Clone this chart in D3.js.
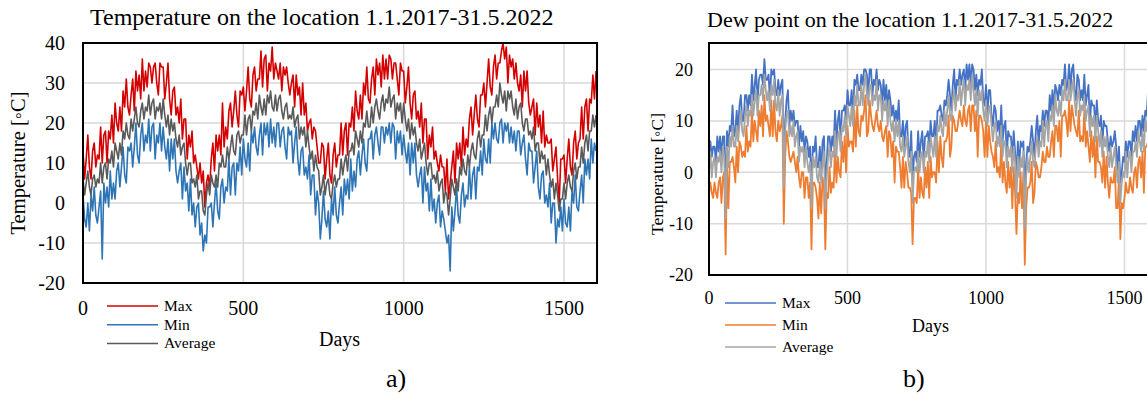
<!DOCTYPE html>
<html>
<head>
<meta charset="utf-8">
<script src="https://cdn.jsdelivr.net/npm/d3@7"></script>
<style>
  body { margin: 0; background: #fff; }
  svg text { font-family: "Liberation Serif", "Times New Roman", serif; fill: #000; }
</style>
</head>
<body>
<svg id="chart" width="1147" height="394"></svg>
<script>
// one reading every 5 days (10 per row = 50 days)
const STEP = 5;

// a) air temperature
const tMax = [
  13, 6, 11, 17, 9, 6, 13, 15, 9, 12,
  11, 19, 10, 17, 18, 10, 18, 16, 22, 15,
  25, 20, 18, 24, 18, 28, 24, 31, 24, 22,
  27, 31, 23, 33, 28, 32, 26, 36, 28, 33,
  29, 35, 34, 30, 34, 35, 30, 27, 35, 34,
  34, 26, 30, 35, 26, 22, 28, 29, 22, 24,
  20, 26, 16, 21, 21, 11, 17, 14, 18, 10,
  12, 9, 6, 10, 5, 8, -1, 5, 7, 4,
  11, 15, 8, 17, 13, 17, 12, 25, 14, 19,
  16, 23, 25, 19, 23, 28, 22, 19, 28, 27,
  29, 23, 28, 34, 26, 24, 32, 34, 28, 31,
  31, 38, 29, 36, 37, 28, 35, 33, 39, 31,
  35, 33, 31, 35, 28, 34, 32, 34, 30, 27,
  30, 32, 24, 32, 27, 29, 22, 30, 22, 25,
  18, 20, 21, 16, 19, 18, 14, 10, 10, 15,
  14, 6, 11, 15, 7, 5, 12, 15, 9, 12,
  12, 20, 12, 18, 20, 12, 20, 19, 24, 18,
  28, 23, 21, 27, 21, 30, 27, 34, 26, 25,
  31, 34, 27, 36, 32, 35, 29, 37, 31, 36,
  31, 37, 36, 31, 35, 35, 31, 27, 35, 33,
  33, 25, 29, 34, 25, 21, 27, 28, 21, 23,
  19, 25, 15, 21, 21, 11, 17, 14, 19, 11,
  13, 10, 8, 12, 9, 9, 3, 11, 1, 5,
  9, 13, 5, 15, 11, 15, 9, 19, 12, 16,
  14, 21, 24, 17, 22, 27, 21, 19, 27, 27,
  30, 24, 30, 36, 29, 27, 34, 37, 31, 35,
  35, 38, 40, 36, 39, 30, 37, 34, 36, 31,
  35, 30, 28, 32, 24, 33, 28, 33, 25, 22,
  24, 26, 17, 25, 19, 22, 15, 23, 14, 17,
  15, 15, 16, 8, 11, 14, 6, 0, 11, 11,
  12, 5, 11, 16, 9, 7, 15, 18, 11, 15,
  16, 24, 16, 24, 26, 18, 26, 25, 32, 26,
  33
];
const tMin = [
  2, -4, -6, 0, -7, 2, -2, 4, -3, -5,
  -1, 3, -14, 5, 0, 4, -1, 8, 1, 5,
  1, 8, 10, 4, 9, 14, 7, 5, 14, 13,
  15, 9, 14, 20, 12, 10, 17, 20, 13, 17,
  15, 21, 13, 19, 20, 11, 17, 15, 20, 13,
  19, 14, 11, 16, 8, 16, 11, 16, 8, 5,
  8, 10, 1, 9, 3, 5, -2, 6, -3, 0,
  -6, -1, 0, -8, -5, -12, -8, -10, -1, -1,
  0, -6, 0, 5, -2, -4, 4, 6, 0, 4,
  3, 11, 2, 9, 10, 2, 10, 8, 14, 7,
  16, 11, 9, 15, 8, 18, 15, 19, 14, 12,
  17, 20, 12, 20, 17, 20, 14, 21, 15, 19,
  14, 20, 20, 14, 18, 19, 14, 11, 19, 17,
  18, 10, 15, 19, 11, 7, 13, 14, 7, 9,
  6, 12, 2, 7, 7, -3, 3, 0, -9, -4,
  3, -4, -6, -2, -9, 1, -3, 4, -3, -5,
  0, 4, -3, 6, 2, 6, 1, 11, 3, 8,
  4, 11, 13, 7, 12, 16, 10, 8, 16, 16,
  18, 11, 17, 19, 15, 12, 19, 19, 15, 19,
  17, 20, 15, 20, 19, 11, 18, 15, 18, 12,
  17, 13, 10, 15, 7, 15, 10, 15, 7, 4,
  7, 9, 0, 9, 3, 5, -2, 6, -2, 1,
  -5, 0, 2, -6, -2, -4, -7, -10, -8, -17,
  -1, -7, -2, 4, -3, -5, 2, 5, -1, 2,
  1, 9, 1, 7, 9, 1, 9, 8, 13, 7,
  16, 11, 10, 16, 10, 20, 16, 20, 16, 15,
  20, 21, 15, 20, 18, 20, 15, 19, 15, 18,
  13, 18, 18, 12, 15, 17, 11, 7, 15, 13,
  13, 5, 9, 13, 4, 1, 7, 8, 0, 2,
  -1, 5, -5, 0, 0, -10, -4, -6, -1, -7,
  1, -5, -6, -1, -7, 3, 0, 7, -1, -2,
  3, 7, 0, 11, 7, 11, 6, 16, 10, 15,
  13
];
const tAvg = [
  6, 2, 5, 8, 4, 2, 6, 7, 4, 6,
  5, 10, 5, 9, 10, 6, 11, 10, 13, 9,
  15, 13, 11, 15, 12, 18, 16, 20, 17, 16,
  21, 18, 21, 24, 20, 19, 23, 25, 21, 24,
  23, 27, 22, 25, 26, 21, 24, 23, 25, 21,
  26, 22, 19, 22, 17, 21, 18, 20, 16, 14,
  17, 12, 14, 15, 10, 7, 10, 10, 5, 6,
  4, 7, 1, 3, 3, -2, -3, 2, 5, 2,
  7, 5, 4, 7, 4, 10, 9, 12, 9, 9,
  14, 11, 14, 17, 13, 12, 17, 18, 15, 17,
  17, 22, 17, 21, 22, 18, 23, 22, 25, 21,
  27, 24, 22, 26, 22, 27, 25, 28, 24, 23,
  27, 23, 26, 27, 23, 21, 24, 25, 21, 22,
  21, 24, 19, 21, 22, 16, 19, 17, 19, 14,
  18, 14, 11, 13, 8, 12, 9, 8, 2, 4,
  7, 2, 5, 6, 2, 1, 5, 7, 4, 6,
  6, 11, 7, 10, 12, 8, 13, 13, 15, 12,
  18, 16, 14, 18, 15, 20, 19, 23, 19, 19,
  24, 20, 24, 26, 23, 21, 25, 27, 23, 26,
  25, 29, 24, 26, 27, 21, 25, 23, 25, 20,
  25, 21, 18, 21, 16, 20, 17, 19, 15, 13,
  16, 11, 13, 15, 10, 7, 10, 10, 6, 7,
  5, 8, 3, 5, 6, 0, 3, 2, -3, 1,
  6, 4, 2, 6, 3, 9, 7, 11, 8, 7,
  12, 9, 13, 15, 12, 11, 16, 18, 14, 17,
  17, 22, 18, 22, 24, 20, 24, 24, 27, 24,
  30, 27, 25, 28, 23, 28, 26, 28, 24, 22,
  26, 21, 24, 25, 20, 18, 21, 21, 17, 18,
  16, 19, 13, 15, 15, 10, 13, 11, 12, 7,
  11, 7, 4, 6, 1, 5, 2, -2, 1, 1,
  5, 1, 5, 7, 4, 3, 8, 10, 6, 9,
  9, 14, 10, 15, 17, 13, 18, 18, 22, 19,
  22
];

// b) dew point
const dMax = [
  3, 6, 3, 5, 5, 2, 7, 4, 7, 3,
  7, 7, -6, 8, 5, 9, 8, 13, 7, 8,
  12, 8, 13, 15, 10, 10, 15, 15, 12, 15,
  13, 19, 14, 17, 20, 13, 18, 19, 19, 17,
  22, 18, 18, 19, 14, 20, 19, 20, 16, 15,
  18, 15, 17, 18, 1, 10, 14, 16, 9, 12,
  10, 12, 9, 10, 10, 5, 9, 6, 8, 4,
  7, 6, 3, 5, -3, 5, 4, 7, 1, 1,
  5, 0, 6, 7, -3, 2, 7, 7, 4, 7,
  5, 12, 6, 10, 12, 6, 12, 12, 13, 10,
  16, 13, 13, 16, 11, 18, 17, 19, 16, 16,
  19, 17, 20, 20, 19, 15, 20, 20, 15, 18,
  17, 20, 16, 18, 17, 13, 18, 14, 17, 12,
  16, 14, 11, 13, 10, 12, 10, 14, 7, 7,
  10, 5, 9, 10, 4, 3, 8, -2, 3, 4,
  2, 8, 3, 6, 8, 2, 7, 7, 8, 5,
  10, 7, 7, 10, 5, 12, 12, 13, 11, 10,
  14, 13, 15, 18, 15, 12, 17, 20, 14, 18,
  17, 20, 17, 19, 20, 16, 21, 18, 21, 17,
  21, 20, 16, 19, 15, 18, 17, 20, 14, 13,
  17, 11, 16, 16, 11, 9, 13, 12, 8, 10,
  7, 13, 6, 9, 10, 3, 8, 7, 7, 3,
  8, 4, -1, 6, 1, 6, 5, 6, -4, 2,
  5, 4, 6, 9, 6, 3, 8, 11, 5, 9,
  8, 12, 9, 12, 12, 9, 15, 12, 16, 12,
  17, 16, 14, 17, 15, 18, 17, 21, 16, 17,
  21, 16, 20, 21, 16, 14, 19, 18, 14, 16,
  14, 19, 13, 15, 17, 9, 14, 13, 13, 9,
  14, 10, 9, 11, 5, 10, 9, 9, 6, 4,
  7, 5, 6, 8, 5, 0, 5, -2, 0, 3,
  2, 6, 3, 6, 6, 3, 8, 6, 9, 6,
  10, 10, 7, 11, 8, 12, 11, 16, 10, 11,
  14
];
const dMin = [
  -4, -2, -4, -5, -2, -4, -5, -2, -1, -6,
  -1, 0, -16, 1, -7, 2, 2, 3, 1, -2,
  5, 0, 6, 5, 3, 4, 3, 9, 4, 6,
  5, 12, 6, 10, 8, 6, 12, 9, 13, 7,
  15, 10, 11, 9, 7, 14, 7, 14, 8, 6,
  10, 8, 9, 11, -10, 3, 8, 6, 3, 2,
  3, 4, 2, 0, 3, -1, -3, 0, 0, -5,
  -1, -1, -5, -2, -15, -2, -2, -3, -5, -9,
  -2, -8, -1, -3, -15, -4, -5, 1, -4, -2,
  -3, 5, -2, 3, 0, -1, 6, 2, 7, 0,
  9, 5, 6, 6, 4, 12, 5, 13, 8, 7,
  11, 10, 12, 15, 7, 8, 14, 11, 9, 8,
  10, 12, 9, 8, 10, 7, 6, 8, 9, 3,
  8, 7, 3, 6, -2, 5, 4, 4, 1, -3,
  3, -3, 2, 0, -3, -3, -4, -14, -5, -5,
  -6, 1, -5, -1, -4, -5, 1, -3, 2, -5,
  3, -1, 0, 0, -2, 6, 0, 7, 3, 1,
  6, 6, 7, 11, 3, 5, 11, 10, 8, 8,
  10, 12, 10, 9, 13, 10, 9, 12, 13, 8,
  13, 13, 8, 12, 3, 11, 11, 10, 8, 3,
  10, 3, 9, 6, 4, 3, 1, 6, 0, 1,
  -1, 6, -2, 2, -2, -4, 2, -3, 1, -7,
  1, -4, -12, -4, -6, 0, -7, 0, -18, -7,
  -3, -3, -2, 2, -6, -4, 2, 1, -1, -1,
  1, 4, 2, 2, 5, 3, 3, 6, 8, 3,
  9, 9, 6, 10, 3, 11, 11, 12, 10, 7,
  14, 8, 13, 11, 9, 8, 7, 12, 6, 7,
  6, 12, 5, 8, 5, 2, 8, 3, 7, -1,
  7, 2, 2, 1, -2, 4, -3, 3, -2, -5,
  -1, -2, -2, 1, -7, -7, -1, -13, -6, -7,
  -5, -2, -4, -4, -1, -3, -4, 0, 1, -3,
  2, 3, -1, 4, -4, 5, 5, 6, 4, 1,
  7
];
const dAvg = [
  0, 4, -1, 2, 3, -1, 3, 2, 4, 0,
  5, 3, -9, 5, 1, 7, 5, 9, 5, 5,
  9, 6, 9, 12, 8, 7, 11, 13, 9, 12,
  11, 15, 11, 14, 16, 11, 15, 15, 17, 14,
  19, 16, 14, 16, 12, 17, 15, 18, 13, 12,
  16, 11, 14, 15, -3, 8, 11, 12, 7, 9,
  7, 10, 5, 7, 8, 2, 5, 4, 5, 1,
  5, 2, 0, 2, -7, 3, 1, 3, -1, -2,
  2, -2, 2, 4, -7, -1, 3, 5, 1, 4,
  3, 8, 3, 7, 8, 4, 9, 8, 11, 7,
  13, 11, 9, 13, 9, 15, 13, 17, 13, 13,
  17, 13, 17, 19, 15, 13, 17, 17, 13, 15,
  14, 18, 12, 15, 15, 10, 14, 12, 14, 9,
  14, 10, 8, 10, 6, 10, 7, 10, 5, 4,
  7, 3, 5, 7, 2, 0, 4, -6, 0, 1,
  0, 4, 0, 3, 4, 0, 4, 3, 6, 2,
  7, 5, 3, 7, 3, 9, 8, 11, 8, 7,
  12, 9, 12, 15, 11, 10, 14, 16, 12, 15,
  14, 18, 13, 16, 18, 13, 17, 16, 18, 14,
  19, 16, 13, 16, 11, 16, 14, 16, 12, 10,
  14, 9, 12, 13, 9, 6, 9, 10, 5, 7,
  5, 9, 3, 6, 6, 1, 5, 3, 5, 0,
  5, 2, -5, 3, -1, 3, 1, 4, -11, -1,
  3, 0, 3, 6, 2, 1, 5, 7, 3, 6,
  5, 10, 5, 9, 10, 6, 11, 10, 13, 9,
  15, 12, 11, 14, 11, 16, 14, 18, 14, 14,
  18, 14, 16, 18, 14, 11, 15, 16, 11, 13,
  12, 15, 10, 12, 13, 7, 11, 9, 11, 6,
  11, 8, 5, 8, 3, 7, 5, 7, 3, 1,
  5, 1, 3, 5, 1, -2, 2, -6, -2, 0,
  -1, 4, -1, 3, 4, 0, 4, 4, 6, 3,
  8, 6, 4, 8, 4, 10, 8, 12, 8, 8,
  11
];

const seriesNames = ['Max', 'Min', 'Average'];
const xTicks = [0, 500, 1000, 1500];
const tempTicks = [-20, -10, 0, 10, 20, 30, 40];
const dewTicks = [-20, -10, 0, 10, 20];

const svg = d3.select('#chart');

function drawPanel(cfg) {
  const g = svg.append('g');
  const x = d3.scaleLinear().domain([0, 1500]).range(cfg.xRange);
  const y = d3.scaleLinear().domain([-20, 20]).range(cfg.yRange);
  const left = x(0), right = x(1603);
  const top = cfg.top, bottom = y(-20);

  // grid
  g.selectAll('.hg').data(cfg.yTicks.filter(v => v > -20 && y(v) > top + 2))
    .enter().append('line')
    .attr('x1', left).attr('x2', right)
    .attr('y1', d => y(d)).attr('y2', d => y(d))
    .attr('stroke', '#d9d9d9').attr('stroke-width', 1.5);
  g.selectAll('.vg').data(xTicks.filter(v => v > 0))
    .enter().append('line')
    .attr('x1', d => x(d)).attr('x2', d => x(d))
    .attr('y1', top).attr('y2', bottom)
    .attr('stroke', '#d9d9d9').attr('stroke-width', 1.5);

  // series: Max, Min, Average (Average drawn last, on top)
  const line = d3.line().x((d, i) => x(i * STEP)).y(d => y(d));
  cfg.series.forEach((s, k) => {
    g.append('path').datum(s)
      .attr('d', line)
      .attr('fill', 'none')
      .attr('stroke', cfg.colors[k])
      .attr('stroke-width', cfg.lineWidth)
      .attr('stroke-linejoin', 'round');
  });

  // frame
  g.append('rect')
    .attr('x', left).attr('y', top)
    .attr('width', right - left).attr('height', bottom - top)
    .attr('fill', 'none').attr('stroke', '#000').attr('stroke-width', 2);

  // axis labels
  g.selectAll('.yl').data(cfg.yTicks)
    .enter().append('text')
    .attr('x', cfg.yLabelX).attr('y', d => y(d))
    .attr('dy', '0.35em').attr('text-anchor', 'end')
    .style('font-size', cfg.tickSize + 'px')
    .text(d => d);
  g.selectAll('.xl').data(xTicks)
    .enter().append('text')
    .attr('x', d => x(d)).attr('y', cfg.xLabelY)
    .attr('text-anchor', 'middle')
    .style('font-size', cfg.tickSize + 'px')
    .text(d => d);

  g.append('text')
    .attr('x', cfg.titleX).attr('y', cfg.titleY)
    .style('font-size', cfg.titleSize + 'px')
    .text(cfg.title);

  g.append('text')
    .attr('transform', `translate(${cfg.yTitleX},${cfg.yTitleY}) rotate(-90)`)
    .attr('text-anchor', 'middle')
    .style('font-size', cfg.yTitleSize + 'px')
    .text('Temperature [\u25E6C]');

  g.append('text')
    .attr('x', cfg.daysX).attr('y', cfg.daysY)
    .style('font-size', cfg.daysSize + 'px')
    .text('Days');

  g.append('text')
    .attr('x', cfg.tagX).attr('y', 387)
    .style('font-size', '26px')
    .text(cfg.tag);

  // legend
  seriesNames.forEach((name, k) => {
    const ly = cfg.legendY + k * cfg.legendGap;
    g.append('line')
      .attr('x1', cfg.legendX).attr('x2', cfg.legendX + 51)
      .attr('y1', ly).attr('y2', ly)
      .attr('stroke', cfg.colors[k]).attr('stroke-width', 1.5);
    g.append('text')
      .attr('x', cfg.legendX + 57).attr('y', ly + 5)
      .style('font-size', '15.5px')
      .text(name);
  });
}

drawPanel({
  series: [tMax, tMin, tAvg],
  colors: ['#d40000', '#2e75b6', '#595959'],
  lineWidth: 1.6,
  xRange: [83, 564],
  yRange: [283, 123],
  top: 43,
  yTicks: tempTicks,
  yLabelX: 65, tickSize: 20, xLabelY: 315,
  title: 'Temperature on the location 1.1.2017-31.5.2022',
  titleX: 90, titleY: 25, titleSize: 24,
  yTitleX: 25, yTitleY: 163, yTitleSize: 20.5,
  daysX: 319, daysY: 346, daysSize: 20,
  tag: 'a)', tagX: 386,
  legendX: 107, legendY: 306, legendGap: 18.7
});

drawPanel({
  series: [dMax, dMin, dAvg],
  colors: ['#4472c4', '#ed7d31', '#a5a5a5'],
  lineWidth: 1.8,
  xRange: [709, 1124.5],
  yRange: [275, 69.5],
  top: 43,
  yTicks: dewTicks,
  yLabelX: 693, tickSize: 18, xLabelY: 304,
  title: 'Dew point on the location 1.1.2017-31.5.2022',
  titleX: 707, titleY: 27, titleSize: 22,
  yTitleX: 663, yTitleY: 174, yTitleSize: 17.5,
  daysX: 912, daysY: 332, daysSize: 18,
  tag: 'b)', tagX: 903,
  legendX: 725, legendY: 303, legendGap: 22
});
</script>
</body>
</html>
